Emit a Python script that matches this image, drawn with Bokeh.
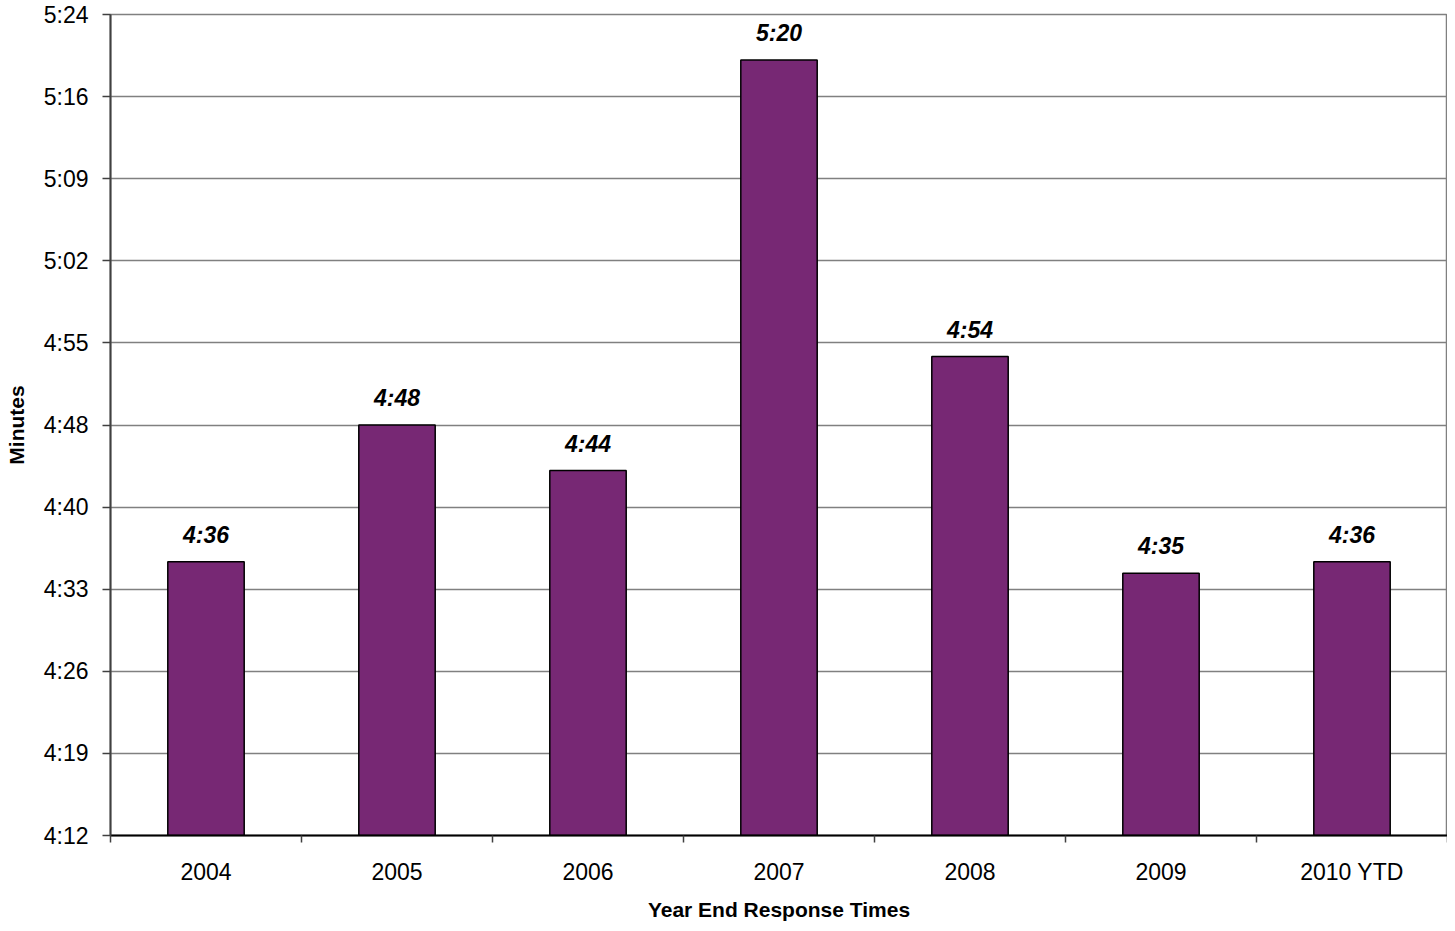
from bokeh.plotting import figure
from bokeh.models import ColumnDataSource, FixedTicker, CustomJSTickFormatter, Range1d
from bokeh.core.properties import value
from bokeh.embed import file_html
from bokeh.resources import INLINE

# ---- data ----
categories = ["2004", "2005", "2006", "2007", "2008", "2009", "2010 YTD"]
# response times in seconds (m:ss)
seconds = [276, 288, 284, 320, 294, 275, 276]   # 4:36, 4:48, 4:44, 5:20, 4:54, 4:35, 4:36
y_min, y_max = 252, 324                         # 4:12 .. 5:24
n_div = 10

def mmss(s):
    s = int(s)
    return f"{s // 60}:{s % 60:02d}"

xs = [i + 0.5 for i in range(len(categories))]
labels = [mmss(s) for s in seconds]
src = ColumnDataSource(dict(x=xs, top=seconds, label=labels))

FONT = "Liberation Sans"

p = figure(width=1447, height=923, output_backend="svg", toolbar_location=None,
           x_range=Range1d(0, len(categories)), y_range=Range1d(y_min, y_max),
           min_border_left=110, min_border_right=0, min_border_top=14, min_border_bottom=70)
p.background_fill_color = "white"
p.border_fill_color = "white"
p.outline_line_color = "#808080"
p.outline_line_width = 1.5

p.vbar(x="x", top="top", bottom=y_min, width=0.4, source=src,
       fill_color="#772874", line_color="black", line_width=1.5)

p.text(x="x", y="top", text="label", source=src, text_align="center",
       text_baseline="alphabetic", y_offset=-27, text_font=value(FONT),
       text_font_size="23px", text_font_style="bold italic", text_color="black")

# y axis
yticks = [y_min + (y_max - y_min) * k / n_div for k in range(n_div + 1)]
p.yaxis.ticker = FixedTicker(ticks=yticks, minor_ticks=[])
p.yaxis.formatter = CustomJSTickFormatter(code="""
const s = Math.floor(tick + 1e-6);
const m = Math.floor(s / 60);
const r = s % 60;
return m + ":" + (r < 10 ? "0" + r : "" + r);
""")
p.yaxis.axis_label = "Minutes"
p.yaxis.axis_label_text_font = FONT
p.yaxis.axis_label_text_font_style = "bold"
p.yaxis.axis_label_text_font_size = "21px"
p.yaxis.axis_label_text_color = "black"
p.yaxis.axis_label_standoff = 13
p.yaxis.major_label_text_font = FONT
p.yaxis.major_label_text_font_size = "23px"
p.yaxis.major_label_text_color = "black"
p.yaxis.major_label_standoff = 14
p.yaxis.axis_line_color = "#404040"
p.yaxis.axis_line_width = 2
p.yaxis.major_tick_line_color = "#404040"
p.yaxis.major_tick_line_width = 1.5
p.yaxis.major_tick_out = 8
p.yaxis.major_tick_in = 0
p.yaxis.minor_tick_line_color = None

# x axis: labels at centers, ticks at boundaries
p.xaxis.ticker = FixedTicker(ticks=xs, minor_ticks=list(range(len(categories) + 1)))
p.xaxis.major_label_overrides = {x: c for x, c in zip(xs, categories)}
p.xaxis.axis_label = "Year End Response Times"
p.xaxis.axis_label_text_font = FONT
p.xaxis.axis_label_text_font_style = "bold"
p.xaxis.axis_label_text_font_size = "21px"
p.xaxis.axis_label_text_color = "black"
p.xaxis.axis_label_standoff = 10
p.xaxis.major_label_text_font = FONT
p.xaxis.major_label_text_font_size = "23px"
p.xaxis.major_label_text_color = "black"
p.xaxis.major_label_standoff = 16
p.xaxis.axis_line_color = "black"
p.xaxis.axis_line_width = 2
p.xaxis.major_tick_line_color = None
p.xaxis.minor_tick_line_color = "#404040"
p.xaxis.minor_tick_line_width = 1.5
p.xaxis.minor_tick_out = 7
p.xaxis.minor_tick_in = 0

p.xgrid.grid_line_color = None
p.ygrid.grid_line_color = "#808080"
p.ygrid.grid_line_width = 1.5

open("out.html", "w").write(file_html(p, INLINE))
